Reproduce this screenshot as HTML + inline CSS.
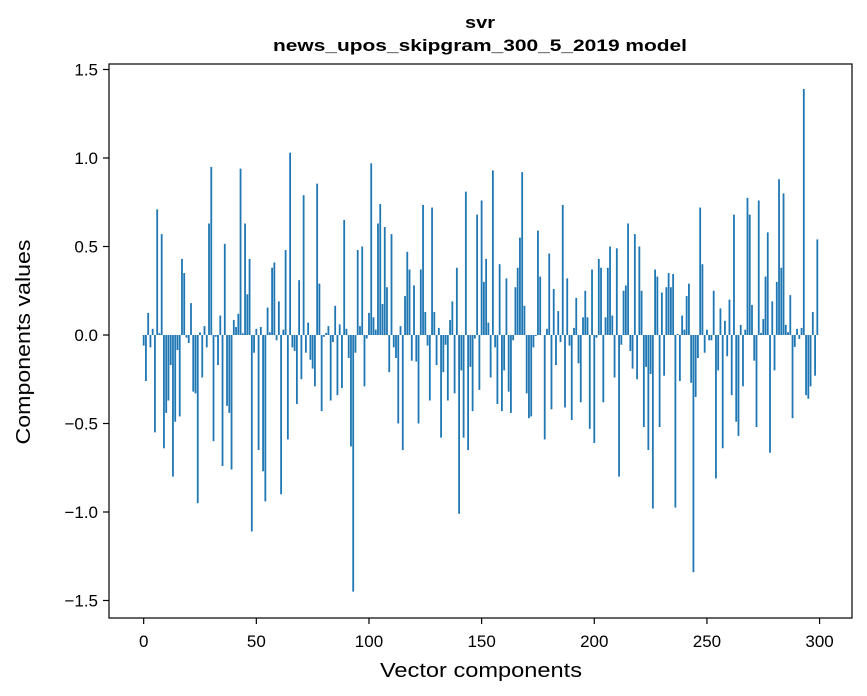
<!DOCTYPE html>
<html><head><meta charset="utf-8"><style>
html,body{margin:0;padding:0;background:#fff;}
svg{display:block;font-family:"Liberation Sans",sans-serif;}
</style></head><body>
<svg id="chart" width="867" height="696" viewBox="0 0 867 696" xmlns="http://www.w3.org/2000/svg">
<rect x="0" y="0" width="867" height="696" fill="#fff"/>
<text x="480" y="28" text-anchor="middle" font-size="17" font-weight="bold" textLength="30" lengthAdjust="spacingAndGlyphs">svr</text>
<text x="480" y="51" text-anchor="middle" font-size="17" font-weight="bold" textLength="414" lengthAdjust="spacingAndGlyphs">news_upos_skipgram_300_5_2019 model</text>
<g id="bars"></g>
<g id="axes"></g>
<text x="481" y="677" text-anchor="middle" font-size="20" textLength="202" lengthAdjust="spacingAndGlyphs">Vector components</text>
<text transform="translate(30,342) rotate(-90)" text-anchor="middle" font-size="20" textLength="205" lengthAdjust="spacingAndGlyphs">Components values</text>
</svg>
<script>
const values = [
-0.06,-0.26,0.125,-0.07,0.035,-0.55,0.71,0.01,0.57,-0.64,
-0.44,-0.37,-0.17,-0.80,-0.49,-0.085,-0.46,0.43,0.35,-0.015,
-0.045,0.18,-0.32,-0.33,-0.95,0.015,-0.24,0.05,-0.07,0.63,
0.95,-0.60,-0.01,-0.17,0.11,-0.74,0.515,-0.40,-0.44,-0.76,
0.085,0.045,0.12,0.94,0.01,0.63,0.23,0.43,-1.11,-0.10,
0.035,-0.65,0.045,-0.77,-0.94,0.155,0.015,0.38,0.41,-0.03,
0.19,-0.90,0.03,0.48,-0.59,1.03,-0.07,-0.09,-0.39,0.31,
-0.25,0.79,-0.10,0.07,-0.14,-0.19,-0.29,0.855,0.29,-0.43,
-0.01,0.012,0.05,-0.37,-0.04,0.165,-0.34,0.06,-0.30,0.65,
0.035,-0.13,-0.63,-1.45,-0.10,0.48,0.05,0.50,-0.29,-0.02,
0.125,0.97,0.10,0.03,0.63,0.74,0.175,0.61,0.27,-0.21,
0.57,-0.07,-0.13,-0.50,0.05,-0.65,0.22,0.47,0.37,-0.145,
0.28,-0.15,-0.50,0.37,0.735,0.13,-0.06,-0.37,0.72,0.13,
-0.17,0.04,-0.58,-0.21,-0.055,-0.37,0.085,0.19,-0.33,0.38,
-1.01,-0.20,-0.58,0.81,-0.65,-0.18,-0.43,-0.02,0.68,-0.31,
0.76,0.30,0.43,0.07,-0.24,0.93,-0.07,-0.39,0.40,-0.43,
-0.20,0.32,-0.32,-0.44,-0.03,0.27,0.38,0.55,0.92,0.165,
-0.33,-0.47,-0.46,-0.07,-0.006,0.59,0.33,0.0,-0.59,0.035,
0.46,-0.42,0.26,-0.17,0.135,-0.04,0.735,-0.41,0.32,-0.06,
-0.48,0.04,0.21,-0.16,-0.38,0.10,0.25,0.10,-0.53,0.37,
-0.61,-0.015,0.43,0.38,-0.38,0.10,0.38,0.50,0.11,-0.24,
0.49,-0.80,-0.055,0.25,0.28,0.63,-0.09,-0.19,0.57,-0.25,
0.50,0.25,-0.52,-0.18,-0.65,-0.22,-0.98,0.37,0.33,-0.52,
0.24,-0.23,0.27,0.35,0.27,0.345,-0.975,0.006,-0.26,0.11,
0.03,0.22,0.29,-0.27,-1.34,-0.35,-0.13,0.72,0.40,-0.10,
0.03,-0.03,-0.03,0.25,-0.81,-0.20,0.15,-0.64,0.08,-0.12,
0.20,-0.34,0.68,-0.49,-0.57,0.057,-0.29,0.03,0.775,0.68,
0.17,-0.145,-0.52,0.76,0.012,0.09,0.33,0.58,-0.665,0.19,
-0.20,0.30,0.88,0.38,0.80,0.057,0.016,0.225,-0.47,-0.067,
0.035,-0.022,0.04,1.39,-0.34,-0.36,-0.29,0.13,-0.23,0.54
];
const xTicks = [0,50,100,150,200,250,300];
const yTicks = [1.5,1.0,0.5,0.0,-0.5,-1.0,-1.5];
const yTickLabels = ["1.5","1.0","0.5","0.0","\u22120.5","\u22121.0","\u22121.5"];

const L=109,R=852,T=64,B=618;
const xmin=-15.39,xmax=314.39;
const ymax=(335-T)/177, ymin=(335-B)/177;
const sx=v=>L+(v-xmin)/(xmax-xmin)*(R-L);
const sy=v=>T+(ymax-v)/(ymax-ymin)*(B-T);
const NS="http://www.w3.org/2000/svg";
const bars=document.getElementById('bars');
const axes=document.getElementById('axes');
values.forEach((v,i)=>{
  const r=document.createElementNS(NS,'rect');
  const x0=sx(i-0.4),x1=sx(i+0.4);
  const y0=sy(Math.max(v,0)),y1=sy(Math.min(v,0));
  r.setAttribute('x',x0);r.setAttribute('width',x1-x0);
  r.setAttribute('y',y0);r.setAttribute('height',Math.max(y1-y0,0));
  r.setAttribute('fill','#1f77b4');
  
  
  bars.appendChild(r);
});
const frame=document.createElementNS(NS,'rect');
frame.setAttribute('x',L);frame.setAttribute('y',T);
frame.setAttribute('width',R-L);frame.setAttribute('height',B-T);
frame.setAttribute('fill','none');frame.setAttribute('stroke','#000');frame.setAttribute('stroke-width','1.2');


axes.appendChild(frame);
xTicks.forEach(t=>{
  const x=sx(t);
  const ln=document.createElementNS(NS,'line');
  ln.setAttribute('x1',x);ln.setAttribute('x2',x);ln.setAttribute('y1',B);ln.setAttribute('y2',B+6);
  ln.setAttribute('stroke','#000');ln.setAttribute('stroke-width','1.2');
  
  
  axes.appendChild(ln);
  const tx=document.createElementNS(NS,'text');
  tx.setAttribute('x',x);tx.setAttribute('y',B+29);tx.setAttribute('text-anchor','middle');tx.setAttribute('font-size','17');
  tx.textContent=String(t);
  
  
  axes.appendChild(tx);
});
yTicks.forEach((t,i)=>{
  const y=sy(t);
  const ln=document.createElementNS(NS,'line');
  ln.setAttribute('x1',L-6);ln.setAttribute('x2',L);ln.setAttribute('y1',y);ln.setAttribute('y2',y);
  ln.setAttribute('stroke','#000');ln.setAttribute('stroke-width','1.2');
  
  
  axes.appendChild(ln);
  const tx=document.createElementNS(NS,'text');
  tx.setAttribute('x',L-11);tx.setAttribute('y',y+6);tx.setAttribute('text-anchor','end');tx.setAttribute('font-size','17');
  tx.textContent=yTickLabels[i];
  
  
  axes.appendChild(tx);
});
</script>
</body></html>
